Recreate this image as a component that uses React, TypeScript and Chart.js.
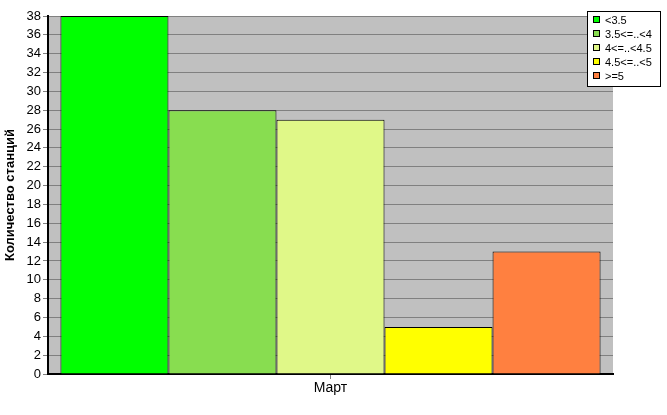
import React, { useEffect, useRef } from "react";
import { Chart, registerables } from "chart.js";

Chart.register(...registerables);

const categories = ["Март"];
const seriesLabels = ["<3.5", "3.5<=..<4", "4<=..<4.5", "4.5<=..<5", ">=5"];
const seriesValues = [38, 28, 27, 5, 13];
const seriesColors = ["#00FF00", "#88DD50", "#E0F888", "#FFFF00", "#FF8040"];
const yTitle = "Количество станций";

const FONT = "'Liberation Sans', Arial, sans-serif";

const bgPlugin = {
  id: "plotBg",
  beforeDraw(chart: any) {
    const { ctx, chartArea } = chart;
    ctx.save();
    ctx.fillStyle = "#C0C0C0";
    ctx.fillRect(chartArea.left, chartArea.top, chartArea.right - chartArea.left, chartArea.bottom - chartArea.top);
    ctx.restore();
  },
};

const legendPlugin = {
  id: "boxLegend",
  afterDraw(chart: any) {
    const { ctx } = chart;
    const x = 587.5, y = 11.5, w = 73, h = 75;
    ctx.save();
    ctx.fillStyle = "#FFFFFF";
    ctx.fillRect(x, y, w, h);
    ctx.strokeStyle = "#000000";
    ctx.lineWidth = 1;
    ctx.strokeRect(x, y, w, h);
    ctx.font = `11px ${FONT}`;
    ctx.textBaseline = "middle";
    chart.data.datasets.forEach((ds: any, i: number) => {
      const cy = 20 + i * 14;
      ctx.fillStyle = ds.backgroundColor;
      ctx.fillRect(593.5, cy - 3.5, 6, 6);
      ctx.strokeStyle = "#000";
      ctx.strokeRect(593.5, cy - 3.5, 6, 6);
      ctx.fillStyle = "#000";
      ctx.fillText(ds.label, 605, cy + 0.5);
    });
    ctx.restore();
  },
};

export default function App() {
  const ref = useRef<HTMLCanvasElement>(null);
  useEffect(() => {
    const chart = new Chart(ref.current!, {
      type: "bar",
      data: {
        labels: categories,
        datasets: seriesLabels.map((l, i) => ({
          label: l,
          data: [seriesValues[i]],
          backgroundColor: seriesColors[i],
          borderColor: "#000000",
          borderWidth: 1,
          categoryPercentage: 0.956,
          barPercentage: 1,
        })),
      },
      options: {
        responsive: false,
        animation: false,
        layout: { padding: { top: 16, right: 54, left: 0, bottom: 0 } },
        plugins: { legend: { display: false }, tooltip: { enabled: false } },
        scales: {
          x: {
            grid: { display: true, offset: false, drawOnChartArea: false, tickLength: 5, color: "#808080" },
            border: { color: "#000000", width: 2 },
            ticks: { font: { family: FONT, size: 14 }, color: "#000", padding: 1 },
            afterFit: (s: any) => { s.height = 41; },
          },
          y: {
            min: 0,
            max: 38,
            ticks: { stepSize: 2, autoSkip: false, font: { family: FONT, size: 13 }, color: "#000", padding: 2 },
            grid: { color: "#808080", tickLength: 5, tickColor: "#808080" },
            border: { color: "#000000", width: 2 },
            title: { display: true, text: yTitle, font: { family: FONT, size: 13, weight: "bold" }, color: "#000", padding: { top: 3, bottom: 0 } },
            afterFit: (s: any) => { s.width = 48; },
          },
        },
      },
      plugins: [bgPlugin, legendPlugin],
    });
    return () => chart.destroy();
  }, []);
  return (
    <div style={{ position: "absolute", left: 0, top: 0, width: 667, height: 415, background: "#fff" }}>
      <canvas ref={ref} width={667} height={415} />
    </div>
  );
}
